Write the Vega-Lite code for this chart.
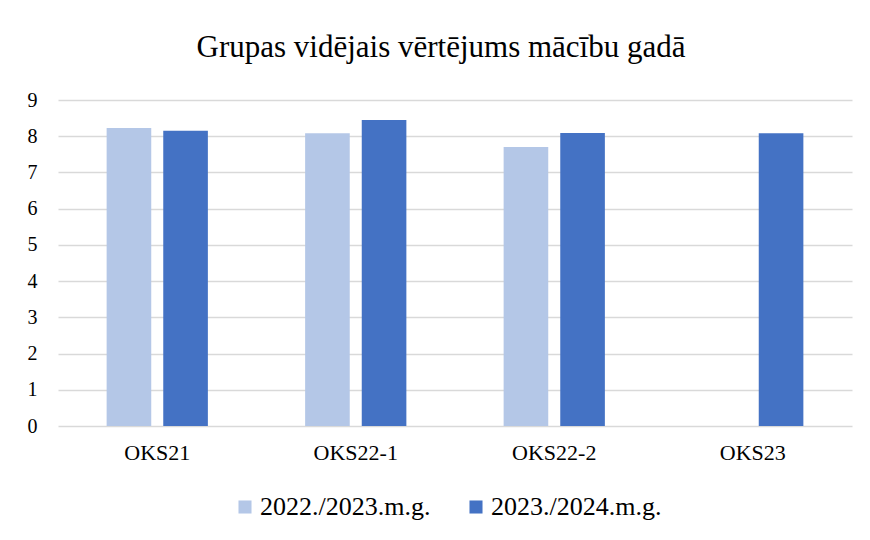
{
  "$schema": "https://vega.github.io/schema/vega-lite/v6.json",
  "autosize": {"type": "none"},
  "width": 794,
  "height": 326,
  "padding": {"left": 58, "top": 100, "right": 18, "bottom": 114},
  "background": "white",
  "title": {
    "text": "Grupas vidējais vērtējums mācību gadā",
    "font": "Liberation Serif",
    "fontSize": 31,
    "fontWeight": "normal",
    "color": "#000000",
    "anchor": "middle",
    "dx": -14,
    "offset": 26
  },
  "data": {
    "values": [
      {"grupa": "OKS21", "gads": "2022./2023.m.g.", "vertejums": 8.23},
      {"grupa": "OKS21", "gads": "2023./2024.m.g.", "vertejums": 8.15},
      {"grupa": "OKS22-1", "gads": "2022./2023.m.g.", "vertejums": 8.08},
      {"grupa": "OKS22-1", "gads": "2023./2024.m.g.", "vertejums": 8.45},
      {"grupa": "OKS22-2", "gads": "2022./2023.m.g.", "vertejums": 7.70},
      {"grupa": "OKS22-2", "gads": "2023./2024.m.g.", "vertejums": 8.09},
      {"grupa": "OKS23", "gads": "2023./2024.m.g.", "vertejums": 8.08}
    ]
  },
  "mark": {"type": "bar"},
  "encoding": {
    "x": {
      "field": "grupa",
      "type": "nominal",
      "sort": ["OKS21", "OKS22-1", "OKS22-2", "OKS23"],
      "scale": {"paddingInner": 0.49, "paddingOuter": 0.245},
      "axis": {
        "title": null,
        "labelAngle": 0,
        "labelFont": "Liberation Serif",
        "labelFontSize": 22,
        "labelColor": "#000000",
        "labelPadding": 16,
        "ticks": false,
        "domain": false,
        "grid": false
      }
    },
    "xOffset": {
      "field": "gads",
      "type": "nominal",
      "scale": {"domain": ["2022./2023.m.g.", "2023./2024.m.g."], "paddingInner": 0.212, "paddingOuter": 0}
    },
    "y": {
      "field": "vertejums",
      "type": "quantitative",
      "scale": {"domain": [0, 9], "nice": false},
      "axis": {
        "title": null,
        "values": [0, 1, 2, 3, 4, 5, 6, 7, 8, 9],
        "labelFont": "Liberation Serif",
        "labelFontSize": 20,
        "labelColor": "#000000",
        "labelPadding": 21,
        "ticks": false,
        "domain": false,
        "grid": true,
        "gridColor": "#d9d9d9",
        "gridWidth": 1.3
      }
    },
    "color": {
      "field": "gads",
      "type": "nominal",
      "scale": {"domain": ["2022./2023.m.g.", "2023./2024.m.g."], "range": ["#b4c7e7", "#4472c4"]},
      "legend": {
        "title": null,
        "orient": "none",
        "legendX": 174,
        "legendY": 394,
        "direction": "horizontal",
        "symbolType": "square",
        "symbolSize": 170,
        "symbolStrokeWidth": 0,
        "labelFont": "Liberation Serif",
        "labelFontSize": 26,
        "labelColor": "#000000",
        "labelLimit": 400,
        "labelOffset": 2,
        "columnPadding": 32
      }
    }
  },
  "config": {
    "font": "Liberation Serif",
    "view": {"stroke": null}
  }
}
